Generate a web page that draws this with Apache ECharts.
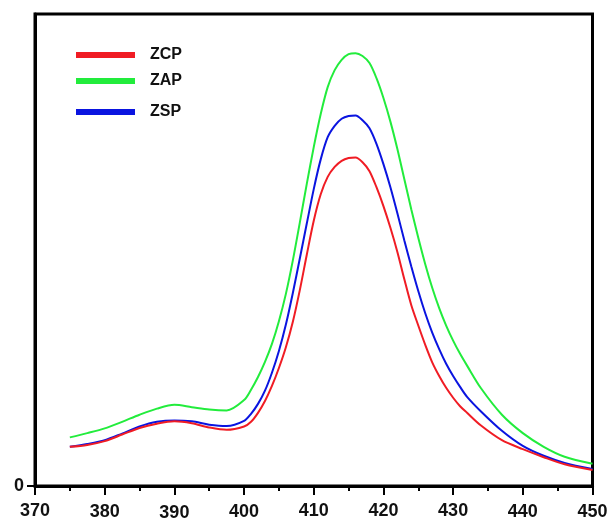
<!DOCTYPE html>
<html>
<head>
<meta charset="utf-8">
<script src="https://cdn.jsdelivr.net/npm/echarts@6/dist/echarts.min.js"></script>
<style>html,body{margin:0;padding:0;background:#fff}#c{width:610px;height:522px}</style>
</head>
<body>
<div id="c"></div>
<script>
var wavelengths = [375, 377.5, 380, 382.5, 385, 387.5, 390, 392.5, 395, 397.5,
  400, 401, 402, 403, 404, 405, 406, 407, 408, 409, 410, 411, 412, 413, 414, 415, 416, 417, 418, 419, 420, 421, 422, 423, 424, 425, 426, 427, 428, 429, 430, 431, 432,
  434, 437, 440, 443, 446, 450];
var zcp = [83, 87, 95, 109, 123, 132, 137, 133, 124, 119,
  126, 136, 155, 180, 212, 250, 294, 348, 415, 490, 562, 618, 655, 676, 689, 695, 696, 686, 667, 633, 593, 547, 496, 438, 383, 340, 299, 262, 233, 208, 187, 169, 155,
  128, 97, 78, 61, 46, 34];
var zap = [103, 112, 122, 136, 151, 164, 172, 167, 162, 160,
  182, 204, 231, 263, 301, 349, 407, 478, 558, 640, 718, 788, 845, 881, 903, 915, 917, 911, 896, 864, 822, 772, 714, 650, 586, 526, 470, 420, 377, 340, 308, 280, 255,
  207, 151, 112, 83, 62, 47];
var zsp = [83, 89, 97, 111, 126, 136, 139, 137, 130, 127,
  138, 153, 174, 202, 240, 286, 342, 409, 482, 556, 629, 692, 739, 763, 778, 784, 785, 775, 758, 725, 682, 633, 578, 520, 465, 413, 366, 325, 290, 259, 233, 210, 189,
  158, 117, 85, 64, 49, 36];
var xTicks = [370, 380, 390, 400, 410, 420, 430, 440, 450];
var seriesNames = ['ZCP', 'ZAP', 'ZSP'];
var seriesColors = ['#f01c24', '#22ec3c', '#0a14e0'];
var labelShift = [1, 3, 5, 3, 1, 0, 1, 2, 3];

function pairs(ys) { return wavelengths.map(function (x, i) { return [x, ys[i]]; }); }
var values = [zcp, zap, zsp];

var FONT = 'Arial';
var rich = {};
labelShift.forEach(function (s, i) {
  rich['a' + i] = { fontSize: 18, fontWeight: 'bold', fontFamily: FONT, color: '#111', lineHeight: 18, padding: [s, 0, 0, 0] };
});

var legendTops = [42, 68, 99];
var chart = echarts.init(document.getElementById('c'), null, { renderer: 'canvas' });
chart.setOption({
  animation: false,
  backgroundColor: '#fff',
  grid: { left: 35, right: 17.5, top: 14, bottom: 36, containLabel: false, outerBoundsMode: 'none', show: true, borderColor: '#000', borderWidth: 3, backgroundColor: 'transparent' },
  legend: seriesNames.map(function (n, i) {
    return {
      data: [n], left: 71, top: legendTops[i], orient: 'vertical',
      icon: 'rect', itemWidth: 59, itemHeight: 6,
      textStyle: { fontSize: 16, fontWeight: 'bold', fontFamily: FONT, color: '#111', padding: [0, 0, 0, 10], lineHeight: 16 }
    };
  }),
  xAxis: {
    type: 'value', min: 370, max: 450, interval: 10,
    axisLine: { show: true, lineStyle: { color: '#000', width: 3 } },
    axisTick: { show: true, length: 9, lineStyle: { color: '#000', width: 2 } },
    minorTick: { show: true, splitNumber: 2, length: 5, lineStyle: { color: '#000', width: 2 } },
    splitLine: { show: false },
    axisLabel: {
      margin: 16, fontSize: 18, fontWeight: 'bold', fontFamily: FONT, color: '#111',
      formatter: function (v) { var i = xTicks.indexOf(Math.round(v)); return '{a' + (i < 0 ? 0 : i) + '|' + v + '}'; },
      rich: rich
    }
  },
  yAxis: {
    type: 'value', min: 0, max: 1000,
    axisLine: { show: true, lineStyle: { color: '#000', width: 3 } },
    axisTick: { show: true, length: 8, customValues: [0], lineStyle: { color: '#000', width: 2 } },
    splitLine: { show: false },
    axisLabel: { customValues: [0], margin: 11, fontSize: 18, fontWeight: 'bold', fontFamily: FONT, color: '#111' }
  },
  series: seriesNames.map(function (n, i) {
    return {
      name: n, type: 'line', data: pairs(values[i]), smooth: 0.3, showSymbol: false,
      color: seriesColors[i], lineStyle: { width: 2, color: seriesColors[i] }, z: i === 0 ? 4 : 3
    };
  })
});
</script>
</body>
</html>
